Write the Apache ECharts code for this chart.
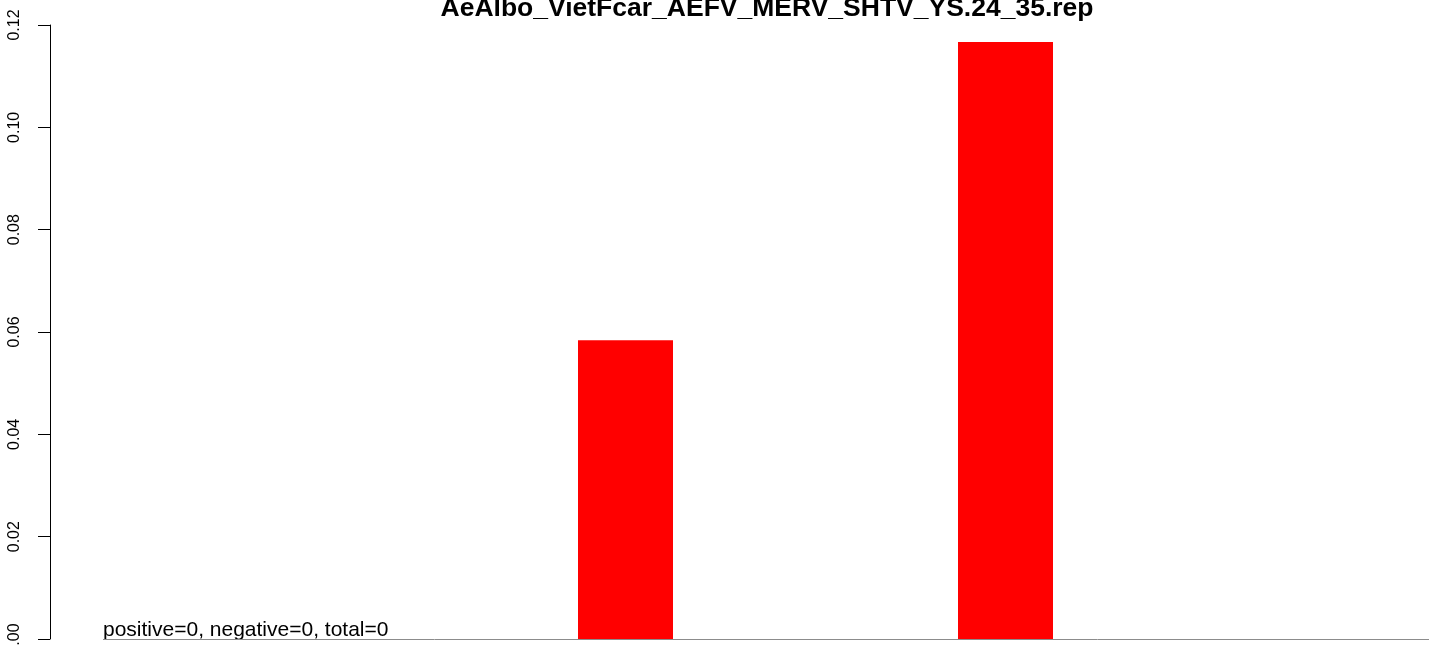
<!DOCTYPE html>
<html>
<head>
<meta charset="utf-8">
<script src="https://cdn.jsdelivr.net/npm/echarts@6/dist/echarts.min.js"></script>
<style>
html,body{margin:0;padding:0;background:#fff;}
#chart{width:1429px;height:645px;}
</style>
</head>
<body>
<div id="chart"></div>
<script>
const titleText = "AeAlbo_VietFcar_AEFV_MERV_SHTV_YS.24_35.rep";
const noteText = "positive=0, negative=0, total=0";
const categories = ["1", "2", "3", "4"];
const values = [0, 0.0584, 0.1167, 0];
const yTicks = [0, 0.02, 0.04, 0.06, 0.08, 0.10, 0.12];

const chart = echarts.init(document.getElementById('chart'), null, {renderer: 'canvas'});
chart.setOption({
  animation: false,
  backgroundColor: '#ffffff',
  title: [
    {
      text: titleText,
      left: 767, top: -5, padding: 0, textAlign: 'center',
      textStyle: {fontFamily: "'Liberation Sans', Arial, sans-serif", fontWeight: 'bold', fontSize: 26.5, color: '#000'}
    },
    {
      text: noteText,
      left: 103, top: 620, padding: 0,
      textStyle: {fontFamily: "'Liberation Sans', Arial, sans-serif", fontWeight: 'normal', fontSize: 21, color: '#000'}
    }
  ],
  grid: {left: 55.5, right: -146.5, top: 25, bottom: 6, containLabel: false, outerBoundsMode: 'none'},
  xAxis: {
    type: 'category', data: categories, show: false, boundaryGap: true
  },
  yAxis: {
    type: 'value', min: yTicks[0], max: yTicks[yTicks.length - 1], interval: 0.02,
    offset: 5.5,
    axisLine: {show: true, lineStyle: {color: '#000', width: 1}},
    axisTick: {show: true, length: 12, lineStyle: {color: '#000', width: 1}},
    splitLine: {show: false},
    axisLabel: {
      show: true, rotate: 90, margin: 27, showMinLabel: true, showMaxLabel: true,
      color: '#000', fontSize: 16,
      fontFamily: "'Liberation Sans', Arial, sans-serif",
      formatter: v => v.toFixed(2)
    }
  },
  series: [{
    type: 'bar', data: values, barWidth: 95,
    itemStyle: {color: '#ff0000'}, silent: true
  }],
  graphic: [{
    type: 'line', silent: true, z: 100,
    shape: {x1: 103, y1: 639.5, x2: 1429, y2: 639.5},
    style: {stroke: '#8c8c8c', lineWidth: 1}
  }]
});
</script>
</body>
</html>
